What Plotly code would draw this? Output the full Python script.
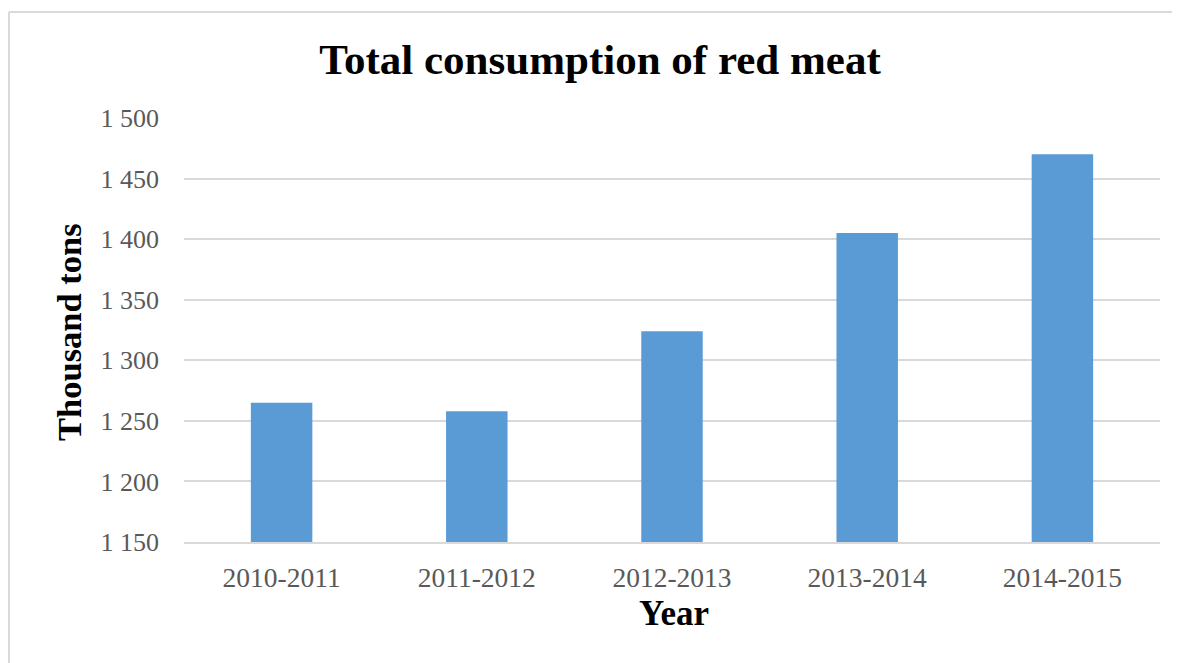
import plotly.graph_objects as go

categories = ["2010-2011", "2011-2012", "2012-2013", "2013-2014", "2014-2015"]
values = [1265, 1258, 1324, 1405, 1470]
y_ticks = [1150, 1200, 1250, 1300, 1350, 1400, 1450, 1500]
y_tick_labels = ["1 150", "1 200", "1 250", "1 300", "1 350", "1 400", "1 450", "1 500"]

OFF = 8  # default page body margin
W, H = 1180 - OFF, 663 - OFF
L, R, T, B = 184 - OFF, 20, 118 - OFF, 121
pw, ph = W - L - R, H - T - B

def px_x(x):
    return (x - OFF - L) / pw

def px_y(y):
    return (H - B - (y - OFF)) / ph

fig = go.Figure()
fig.add_trace(go.Bar(
    x=categories, y=values,
    marker=dict(color="#5b9bd5", line=dict(width=0)),
    width=0.315,
))

serif = "Liberation Serif, Times New Roman, serif"

fig.update_layout(
    width=W, height=H,
    margin=dict(l=L, r=R, t=T, b=B),
    paper_bgcolor="white", plot_bgcolor="white",
    showlegend=False,
    title=dict(text="<b>Total consumption of red meat</b>",
               font=dict(family=serif, size=43, color="black"),
               x=px_x(600), xref="paper", xanchor="center",
               y=1 - (59 - OFF) / H, yanchor="middle"),
    xaxis=dict(
        type="category", showgrid=False, zeroline=False,
        showline=True, linecolor="#d9d9d9", linewidth=2,
        ticks="", tickfont=dict(family=serif, size=27.5, color="#595959"),
        ticklabelstandoff=10,
    ),
    yaxis=dict(
        range=[1150, 1500], tickmode="array", tickvals=y_ticks, ticktext=y_tick_labels,
        showgrid=True, gridcolor="#d9d9d9", gridwidth=2,
        zeroline=False, showline=False, ticks="",
        tickfont=dict(family=serif, size=26, color="#595959"),
        ticklabelstandoff=24,
    ),
    annotations=[
        dict(text="<b>Thousand tons</b>", textangle=-90, xref="paper", yref="paper",
             x=px_x(69), y=px_y(332), xanchor="center", yanchor="middle", showarrow=False,
             font=dict(family=serif, size=34.5, color="black")),
        dict(text="<b>Year</b>", xref="paper", yref="paper",
             x=px_x(674), y=px_y(613), xanchor="center", yanchor="middle", showarrow=False,
             font=dict(family=serif, size=35, color="black")),
    ],
    shapes=[
        dict(type="line", xref="paper", yref="paper",
             x0=px_x(9), x1=px_x(1200), y0=px_y(12), y1=px_y(12),
             line=dict(color="#d9d9d9", width=2), layer="below"),
        dict(type="line", xref="paper", yref="paper",
             x0=px_x(9), x1=px_x(9), y0=px_y(12), y1=px_y(700),
             line=dict(color="#d9d9d9", width=2), layer="below"),
    ],
)

fig.write_html("out.html")
